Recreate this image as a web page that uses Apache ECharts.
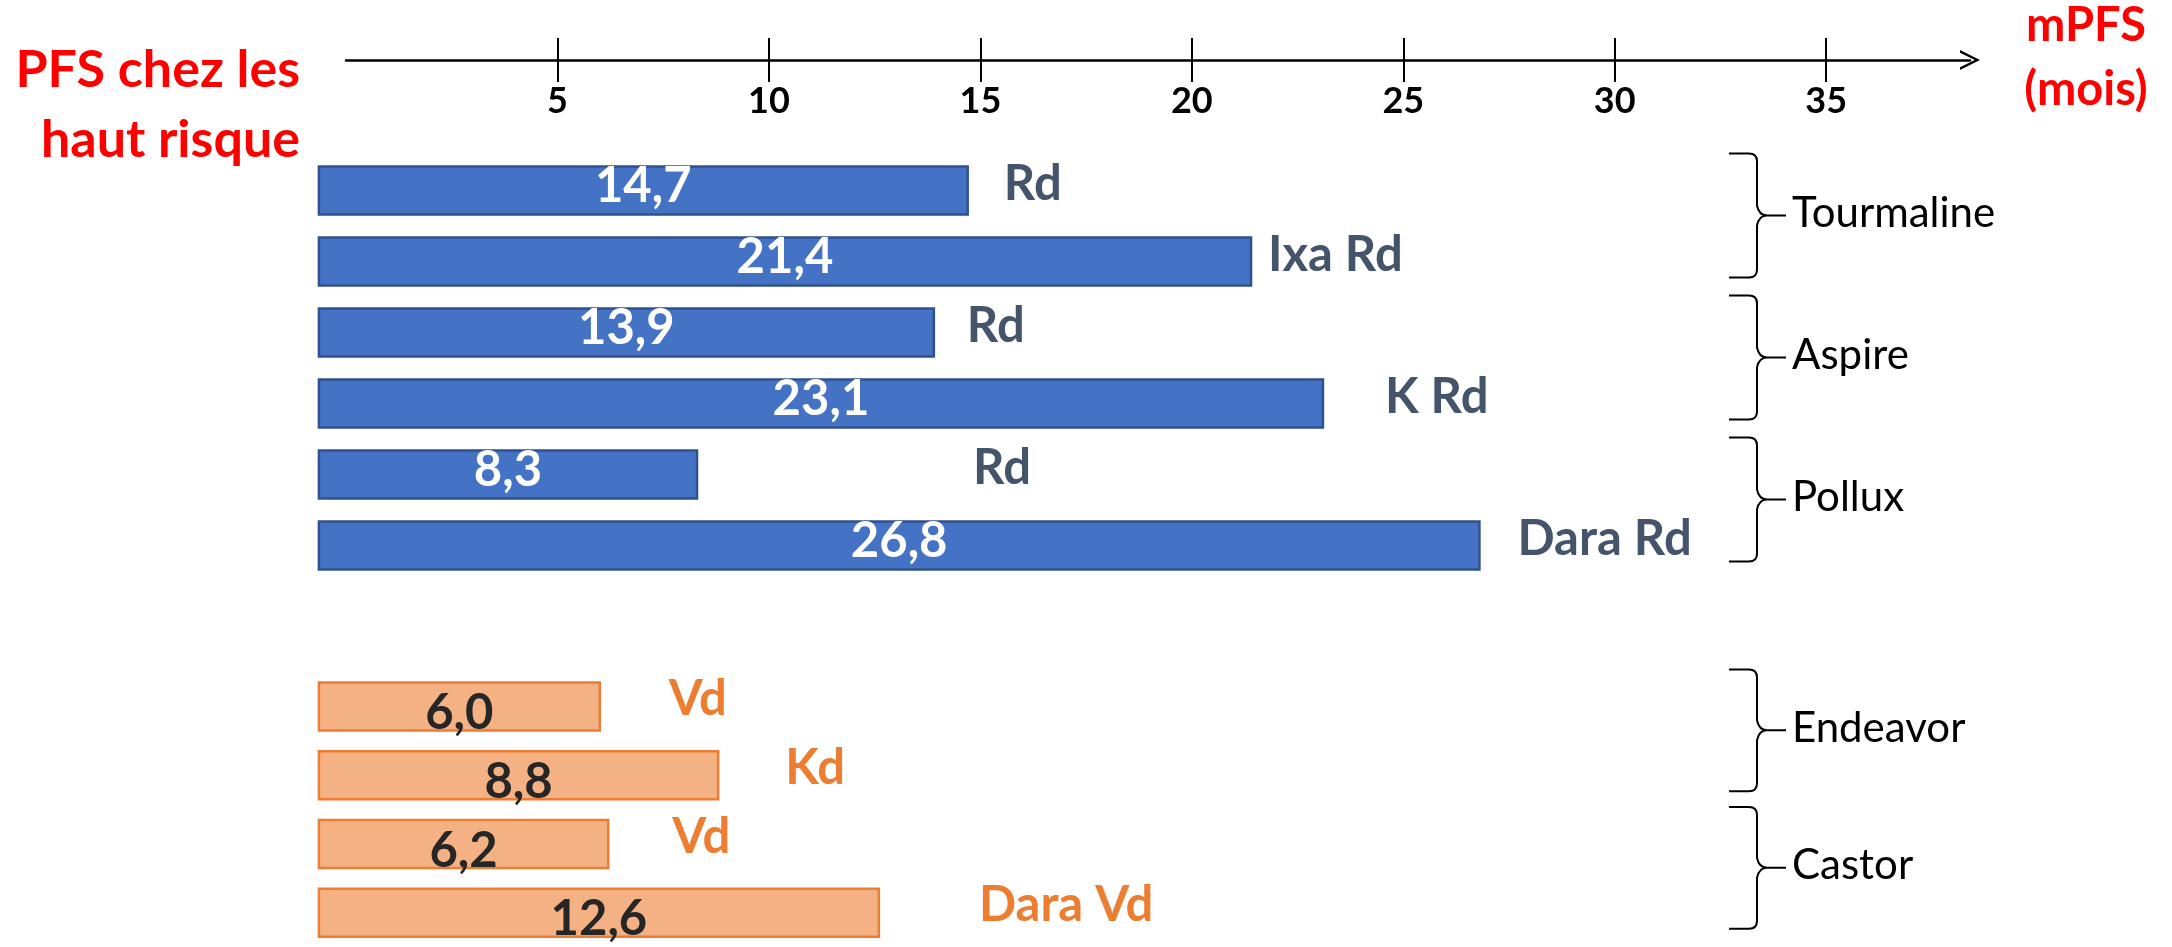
<!DOCTYPE html>
<html>
<head>
<meta charset="utf-8">
<title>mPFS — patients à haut risque</title>
<script src="https://cdn.jsdelivr.net/npm/echarts@6/dist/echarts.min.js"></script>
<style>
  html, body { margin: 0; padding: 0; background: #ffffff; }
  #chart { width: 2172px; height: 947px; }
</style>
</head>
<body>
<div id="chart"></div>
<script>
// Median PFS (months) in high-risk patients, lenalidomide-dexamethasone (Rd) trials
const RD_TRIALS = ['Tourmaline', 'Tourmaline', 'Aspire', 'Aspire', 'Pollux', 'Pollux'];
const RD_ARMS = ['Rd', 'Ixa Rd', 'Rd', 'K Rd', 'Rd', 'Dara Rd'];
const RD_MPFS = [14.7, 21.4, 13.9, 23.1, 8.3, 26.8];

// Median PFS (months) in high-risk patients, bortezomib-dexamethasone (Vd) trials
const VD_TRIALS = ['Endeavor', 'Endeavor', 'Castor', 'Castor'];
const VD_ARMS = ['Vd', 'Kd', 'Vd', 'Dara Vd'];
const VD_MPFS = [6.0, 8.8, 6.2, 12.6];

// Month axis
const TICK_VALUES = [5, 10, 15, 20, 25, 30, 35];
const AXIS_MAX = 38.4;

// ---- layout / style constants ----
const FONT = 'Lato, "Open Sans", sans-serif';
const BAR_ORIGIN = -0.64;      // bars start slightly left of the axis origin
const BAR_HEIGHT = 48;
const RD_ARM_GAP = [36, 17, 33, 62, 276, 38];
const VD_ARM_GAP = [69, 67, 64, 100];
const BRACE = { left: 1729, stem: 1757, tip: 1786, above: 37, below: 16 };

const RD_STYLE = {
  fill: '#4472C4', stroke: '#2F528F',
  valueColor: '#FFFFFF', valueDy: -4,
  armColor: '#44546A', armDy: -6
};
const VD_STYLE = {
  fill: '#F4B183', stroke: '#ED7D31',
  valueColor: '#262626', valueDy: 7,
  armColor: '#ED7D31', armDy: -7
};

const fmt = v => v.toFixed(1).replace('.', ',');

function barRenderer(arms, gaps, st) {
  return function (params, api) {
    const i = params.dataIndex;
    const v = api.value(0);
    const row = api.value(1);
    const end = api.coord([v, row]);
    const start = api.coord([BAR_ORIGIN, row]);
    const h = BAR_HEIGHT;
    return {
      type: 'group',
      children: [
        {
          type: 'rect',
          shape: { x: start[0], y: end[1] - h / 2, width: end[0] - start[0], height: h },
          style: { fill: st.fill, stroke: st.stroke, lineWidth: 2.5 }
        },
        {
          type: 'text',
          style: {
            text: fmt(v), x: (start[0] + end[0]) / 2, y: end[1] + st.valueDy,
            align: 'center', verticalAlign: 'middle',
            fill: st.valueColor, fontSize: 49, fontWeight: 'bold', fontFamily: FONT
          }
        },
        {
          type: 'text',
          style: {
            text: arms[i], x: end[0] + gaps[i], y: end[1] + st.armDy,
            align: 'left', verticalAlign: 'middle',
            fill: st.armColor, fontSize: 49, fontWeight: 'bold', fontFamily: FONT
          }
        }
      ]
    };
  };
}

// consecutive rows sharing a trial name form one bracketed group
function groupsOf(trials) {
  const out = [];
  trials.forEach((t, i) => {
    const last = out[out.length - 1];
    if (last && last.name === t) last.last = i;
    else out.push({ name: t, first: i, last: i });
  });
  return out;
}

function braceRenderer(groups) {
  return function (params, api) {
    const g = groups[params.dataIndex];
    const top = api.coord([0, api.value(1)])[1] - BRACE.above;
    const bottom = api.coord([0, api.value(2)])[1] + BRACE.below;
    const mid = (top + bottom) / 2;
    const L = BRACE.left, S = BRACE.stem, T = BRACE.tip;
    const d = [
      'M', L, top, 'L', S - 8, top, 'Q', S, top, S, top + 8,
      'L', S, mid - 10, 'Q', S + 2, mid, S + 10, mid, 'L', T, mid,
      'M', S + 10, mid, 'Q', S + 2, mid, S, mid + 10,
      'L', S, bottom - 8, 'Q', S, bottom, S - 8, bottom, 'L', L, bottom
    ].join(' ');
    return {
      type: 'group',
      children: [
        {
          type: 'path',
          shape: { pathData: d },
          style: { fill: 'none', stroke: '#000000', lineWidth: 2 }
        },
        {
          type: 'text',
          style: {
            text: g.name, x: T + 6, y: mid - 2,
            align: 'left', verticalAlign: 'middle',
            fill: '#000000', fontSize: 42, fontFamily: FONT
          }
        }
      ]
    };
  };
}

const rdGroups = groupsOf(RD_TRIALS);
const vdGroups = groupsOf(VD_TRIALS);

const chart = echarts.init(document.getElementById('chart'), null, { renderer: 'canvas' });

chart.setOption({
  animation: false,
  backgroundColor: '#ffffff',
  grid: [
    { left: 346, width: 1624, top: 155, height: 426 },
    { left: 346, width: 1624, top: 672, height: 284 }
  ],
  xAxis: [
    {
      gridIndex: 0, type: 'value', position: 'top', offset: 95,
      min: 0, max: AXIS_MAX, interval: 5,
      axisLine: {
        show: true,
        lineStyle: { color: '#000000', width: 2.5 },
        symbol: ['none', 'path://M0,100 L50,0 L100,100 L86,100 L50,26 L14,100 Z'],
        symbolSize: [22, 20],
        symbolOffset: [0, 0]
      },
      axisTick: { show: true, customValues: TICK_VALUES, length: 22, lineStyle: { color: '#000000', width: 2 } },
      axisLabel: {
        show: true, inside: true, margin: 23, customValues: TICK_VALUES,
        color: '#000000', fontSize: 36, fontWeight: 'bold', fontFamily: FONT
      },
      splitLine: { show: false }
    },
    {
      gridIndex: 0, type: 'value', position: 'top', offset: 95,
      min: 0, max: AXIS_MAX, interval: 5,
      axisLine: { show: false },
      axisTick: { show: true, inside: true, customValues: TICK_VALUES, length: 22, lineStyle: { color: '#000000', width: 2 } },
      axisLabel: { show: false },
      splitLine: { show: false }
    },
    {
      gridIndex: 1, type: 'value', min: 0, max: AXIS_MAX, interval: 5, show: false
    }
  ],
  yAxis: [
    {
      gridIndex: 0, type: 'category', inverse: true, show: false,
      data: RD_TRIALS.map((t, i) => t + ' ' + RD_ARMS[i])
    },
    {
      gridIndex: 1, type: 'category', inverse: true, show: false,
      data: VD_TRIALS.map((t, i) => t + ' ' + VD_ARMS[i])
    }
  ],
  series: [
    {
      type: 'custom', name: 'Rd', xAxisIndex: 0, yAxisIndex: 0,
      encode: { x: 0, y: 1 }, clip: false,
      data: RD_MPFS.map((v, i) => [v, i]),
      renderItem: barRenderer(RD_ARMS, RD_ARM_GAP, RD_STYLE)
    },
    {
      type: 'custom', name: 'Vd', xAxisIndex: 2, yAxisIndex: 1,
      encode: { x: 0, y: 1 }, clip: false,
      data: VD_MPFS.map((v, i) => [v, i]),
      renderItem: barRenderer(VD_ARMS, VD_ARM_GAP, VD_STYLE)
    },
    {
      type: 'custom', name: 'Essais Rd', xAxisIndex: 0, yAxisIndex: 0,
      encode: { x: 0, y: 1 }, clip: false,
      data: rdGroups.map(g => [0, g.first, g.last]),
      renderItem: braceRenderer(rdGroups)
    },
    {
      type: 'custom', name: 'Essais Vd', xAxisIndex: 2, yAxisIndex: 1,
      encode: { x: 0, y: 1 }, clip: false,
      data: vdGroups.map(g => [0, g.first, g.last]),
      renderItem: braceRenderer(vdGroups)
    }
  ],
  graphic: [
    {
      type: 'text', x: 300, y: 35,
      style: {
        text: 'PFS chez les\nhaut risque', align: 'right', verticalAlign: 'top',
        lineHeight: 70, fill: '#FF0000', fontSize: 52, fontWeight: 'bold', fontFamily: FONT
      }
    },
    {
      type: 'text', x: 2086, y: -6,
      style: {
        text: 'mPFS\n(mois)', align: 'center', verticalAlign: 'top',
        lineHeight: 64, fill: '#FF0000', fontSize: 47, fontWeight: 'bold', fontFamily: FONT
      }
    }
  ]
});
</script>
</body>
</html>
